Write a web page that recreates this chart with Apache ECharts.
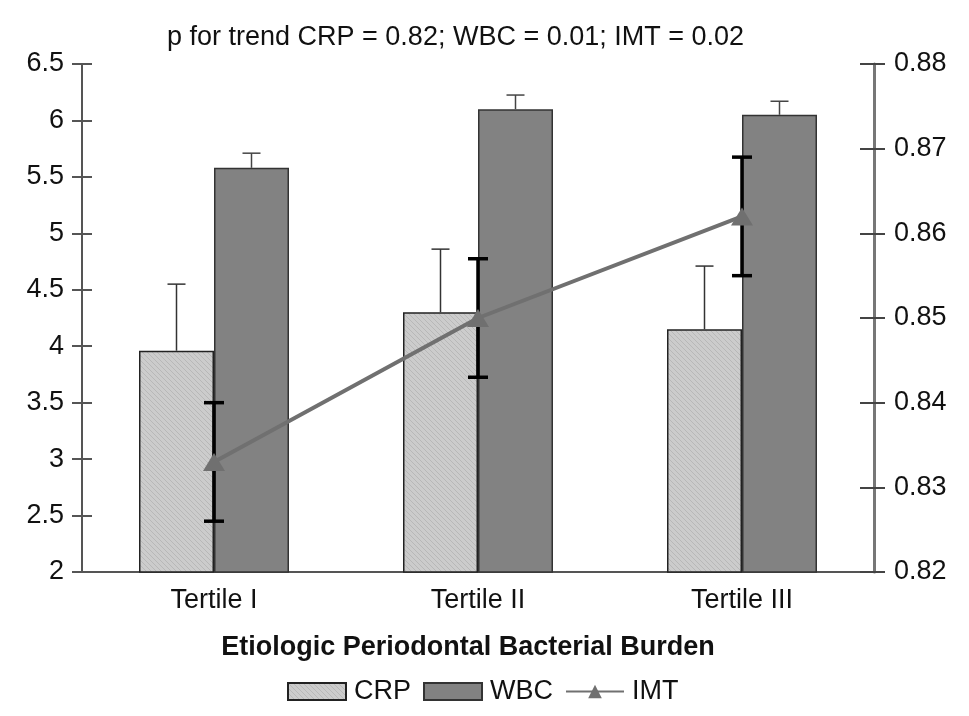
<!DOCTYPE html>
<html>
<head>
<meta charset="utf-8">
<script src="https://cdn.jsdelivr.net/npm/echarts@6/dist/echarts.min.js"></script>
<style>html,body{margin:0;padding:0;background:#fff}#c{width:969px;height:716px}</style>
</head>
<body>
<div id="c"></div>
<script>
const categories = ['Tertile I', 'Tertile II', 'Tertile III'];
const crp = [3.96, 4.30, 4.15];
const crpErr = [0.59, 0.56, 0.56];
const wbc = [5.58, 6.10, 6.05];
const wbcErr = [0.13, 0.125, 0.12];
const imt = [0.833, 0.850, 0.862];
const imtErr = [0.007, 0.007, 0.007];
const leftTicks = {min: 2, max: 6.5, interval: 0.5};
const rightTicks = {min: 0.82, max: 0.88, interval: 0.01};

const BAR_W = 75;
const FONT = 'Liberation Sans, Arial, sans-serif';

// hatch pattern for CRP bars
const pc = document.createElement('canvas');
pc.width = 5; pc.height = 5;
const g = pc.getContext('2d');
g.fillStyle = '#cccccc'; g.fillRect(0, 0, 5, 5);
g.strokeStyle = '#b8b8b8'; g.lineWidth = 1;
g.beginPath(); g.moveTo(0, 0); g.lineTo(5, 5); g.moveTo(-2.5, 2.5); g.lineTo(2.5, 7.5); g.moveTo(2.5, -2.5); g.lineTo(7.5, 2.5); g.stroke();

function errRender(offset, capW, lw, color, both) {
  return function (params, api) {
    const x = api.value(0), v = api.value(1), e = api.value(2);
    const pc0 = api.coord([x, v]);
    const ph = api.coord([x, v + e]);
    const pl = both ? api.coord([x, v - e]) : pc0;
    const cx = pc0[0] + offset;
    const st = {stroke: color, lineWidth: lw};
    const ch = [
      {type: 'line', shape: {x1: cx, y1: pl[1], x2: cx, y2: ph[1]}, style: st},
      {type: 'line', shape: {x1: cx - capW / 2, y1: ph[1], x2: cx + capW / 2, y2: ph[1]}, style: st}
    ];
    if (both) ch.push({type: 'line', shape: {x1: cx - capW / 2, y1: pl[1], x2: cx + capW / 2, y2: pl[1]}, style: st});
    return {type: 'group', children: ch};
  };
}

const chart = echarts.init(document.getElementById('c'));
chart.setOption({
  animation: false,
  backgroundColor: '#fff',
  title: {
    text: 'p for trend CRP = 0.82; WBC = 0.01; IMT = 0.02',
    left: 162, top: 19,
    textStyle: {fontFamily: FONT, fontSize: 27, fontWeight: 'normal', color: '#111'}
  },
  legend: {
    top: 673, left: 282,
    itemWidth: 58, itemHeight: 17, itemGap: 12,
    textStyle: {fontFamily: FONT, fontSize: 27, color: '#111', padding: [0, 0, 0, 3]},
    data: [
      {name: 'CRP', icon: 'rect'},
      {name: 'WBC', icon: 'rect'},
      {name: 'IMT'}
    ]
  },
  grid: {left: 82, right: 95, top: 64, bottom: 144},
  xAxis: {
    type: 'category', data: categories,
    axisLine: {lineStyle: {color: '#555', width: 2}},
    axisTick: {length: 8, lineStyle: {color: '#555', width: 2}},
    axisLabel: {fontFamily: FONT, fontSize: 27, color: '#111', margin: 15},
    name: 'Etiologic Periodontal Bacterial Burden',
    nameLocation: 'middle', nameGap: 62,
    nameTextStyle: {fontFamily: FONT, fontSize: 27, fontWeight: 'bold', color: '#111', padding: [0, 20, 0, 0]}
  },
  yAxis: [
    {type: 'value', position: 'left', min: leftTicks.min, max: leftTicks.max, interval: leftTicks.interval,
      axisLine: {show: true, lineStyle: {color: '#555', width: 2}},
      axisTick: {show: true, length: 10, lineStyle: {color: '#555', width: 2}},
      axisLabel: {fontFamily: FONT, fontSize: 27, color: '#111', margin: 18},
      splitLine: {show: false}},
    {type: 'value', position: 'right', min: rightTicks.min, max: rightTicks.max, interval: rightTicks.interval,
      axisLine: {show: true, lineStyle: {color: '#777', width: 3}},
      axisTick: {show: true, length: 11, lineStyle: {color: '#444', width: 2}},
      axisLabel: {fontFamily: FONT, fontSize: 27, color: '#111', margin: 20, formatter: v => v.toFixed(2)},
      splitLine: {show: false}},
    {type: 'value', position: 'left', min: leftTicks.min, max: leftTicks.max, interval: leftTicks.interval,
      axisLine: {show: false}, axisLabel: {show: false}, splitLine: {show: false},
      axisTick: {show: true, inside: true, length: 10, lineStyle: {color: '#555', width: 2}}},
    {type: 'value', position: 'right', min: rightTicks.min, max: rightTicks.max, interval: rightTicks.interval,
      axisLine: {show: false}, axisLabel: {show: false}, splitLine: {show: false},
      axisTick: {show: true, inside: true, length: 14, lineStyle: {color: '#444', width: 2}}}
  ],
  series: [
    {name: 'CRP', type: 'bar', yAxisIndex: 0, data: crp, barWidth: BAR_W, barGap: '0%',
      itemStyle: {color: {image: pc, repeat: 'repeat'}, borderColor: '#222', borderWidth: 1.5}},
    {name: 'WBC', type: 'bar', yAxisIndex: 0, data: wbc, barWidth: BAR_W, barGap: '0%',
      itemStyle: {color: '#828282', borderColor: '#333', borderWidth: 1.5}},
    {type: 'custom', yAxisIndex: 0, z: 3, silent: true,
      renderItem: errRender(-BAR_W / 2, 18, 1.5, '#333', false),
      data: crp.map((v, i) => [i, v, crpErr[i]])},
    {type: 'custom', yAxisIndex: 0, z: 3, silent: true,
      renderItem: errRender(BAR_W / 2, 18, 1.5, '#444', false),
      data: wbc.map((v, i) => [i, v, wbcErr[i]])},
    {type: 'custom', yAxisIndex: 1, z: 4, silent: true,
      renderItem: errRender(0, 20, 3.5, '#000', true),
      data: imt.map((v, i) => [i, v, imtErr[i]])},
    {name: 'IMT', type: 'line', yAxisIndex: 1, data: imt, z: 5,
      symbol: 'triangle', symbolSize: [22, 18], showSymbol: true,
      lineStyle: {color: '#707070', width: 4},
      itemStyle: {color: '#707070'}}
  ]
});
</script>
</body>
</html>
